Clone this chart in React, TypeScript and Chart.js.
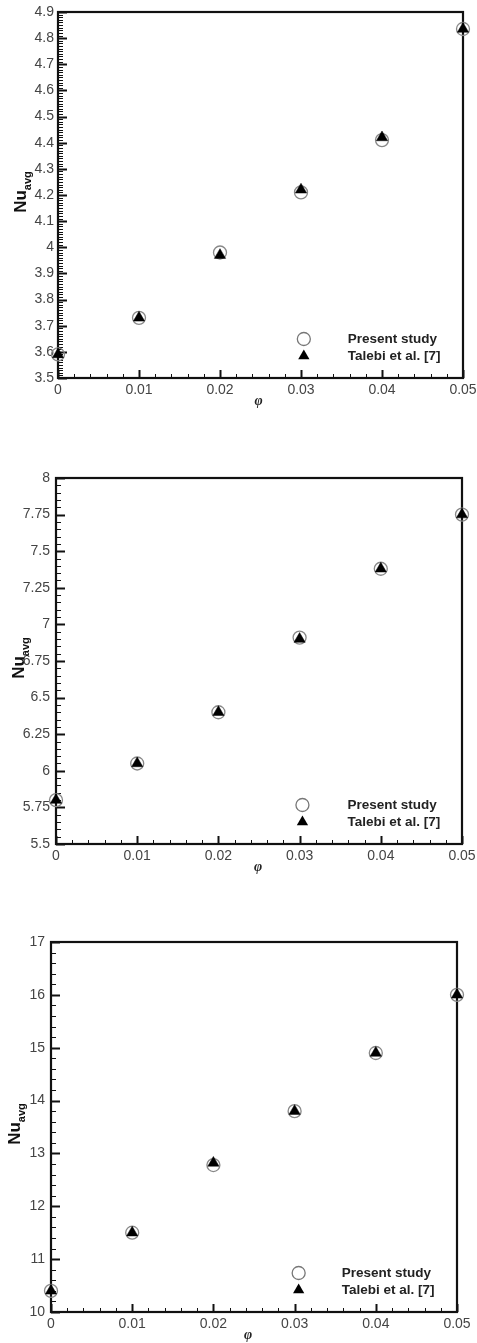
import React, { useEffect, useRef } from 'react';
import { Chart, registerables } from 'chart.js';

Chart.register(...registerables);

// ---------- data ----------
const PHI = [0, 0.01, 0.02, 0.03, 0.04, 0.05];
const X_TICK_VALUES = [0, 0.01, 0.02, 0.03, 0.04, 0.05];
const X_TICK_LABELS = ['0', '0.01', '0.02', '0.03', '0.04', '0.05'];
const LEGEND_LABELS = ['Present study', 'Talebi et al. [7]'];

// Panel A
const PRESENT_A = [3.59, 3.73, 3.98, 4.21, 4.41, 4.835];
const TALEBI_A = [3.59, 3.73, 3.97, 4.22, 4.42, 4.835];
const Y_TICKS_A = [3.5, 3.6, 3.7, 3.8, 3.9, 4, 4.1, 4.2, 4.3, 4.4, 4.5, 4.6, 4.7, 4.8, 4.9];

// Panel B
const PRESENT_B = [5.8, 6.05, 6.4, 6.91, 7.38, 7.75];
const TALEBI_B = [5.8, 6.05, 6.4, 6.9, 7.38, 7.75];
const Y_TICKS_B = [5.5, 5.75, 6, 6.25, 6.5, 6.75, 7, 7.25, 7.5, 7.75, 8];

// Panel C
const PRESENT_C = [10.4, 11.5, 12.78, 13.8, 14.9, 16.0];
const TALEBI_C = [10.4, 11.5, 12.82, 13.8, 14.9, 16.0];
const Y_TICKS_C = [10, 11, 12, 13, 14, 15, 16, 17];

const TICK_FONT = { family: "'Liberation Sans', Arial, sans-serif", size: 14 };

const framePlugin = {
  id: 'frame',
  beforeDatasetsDraw(chart: any, _args: any, opts: any) {
    const { ctx, chartArea: a, scales } = chart;
    const xs = scales.x;
    const ys = scales.y;
    ctx.save();
    ctx.strokeStyle = '#111';
    const ny = Math.round((ys.max - ys.min) / opts.yMinor);
    const yRatio = Math.round(opts.yMajor / opts.yMinor);
    for (let i = 0; i <= ny; i++) {
      const v = ys.min + i * opts.yMinor;
      const py = Math.round(ys.getPixelForValue(v)) + 0.5;
      const major = i % yRatio === 0;
      ctx.lineWidth = major ? 2 : 1;
      ctx.beginPath();
      ctx.moveTo(a.left, py);
      ctx.lineTo(a.left + (major ? 9 : 5), py);
      ctx.stroke();
    }
    const nx = Math.round((xs.max - xs.min) / opts.xMinor);
    const xRatio = Math.round(opts.xMajor / opts.xMinor);
    for (let i = 0; i <= nx; i++) {
      const v = xs.min + i * opts.xMinor;
      const px = Math.round(xs.getPixelForValue(v)) + 0.5;
      const major = i % xRatio === 0;
      ctx.lineWidth = major ? 2 : 1;
      ctx.beginPath();
      ctx.moveTo(px, a.bottom);
      ctx.lineTo(px, a.bottom - (major ? 8 : 4));
      ctx.stroke();
    }
    ctx.lineWidth = 2.2;
    ctx.strokeRect(a.left, a.top, a.right - a.left, a.bottom - a.top);
    ctx.restore();
  },
  afterDraw(chart: any, _args: any, opts: any) {
    const { ctx, chartArea: a } = chart;
    ctx.save();
    // y title Nu_avg
    const cy = (a.top + a.bottom) / 2 - 3;
    ctx.translate(opts.yTitleX, cy);
    ctx.rotate(-Math.PI / 2);
    ctx.fillStyle = '#111';
    ctx.font = "bold 17px 'Liberation Sans', Arial, sans-serif";
    const wNu = ctx.measureText('Nu').width;
    ctx.font = "bold 11px 'Liberation Sans', Arial, sans-serif";
    const wAvg = ctx.measureText('avg').width;
    const start = -(wNu + wAvg) / 2;
    ctx.textBaseline = 'alphabetic';
    ctx.textAlign = 'left';
    ctx.font = "bold 17px 'Liberation Sans', Arial, sans-serif";
    ctx.fillText('Nu', start, 0);
    ctx.font = "bold 11px 'Liberation Sans', Arial, sans-serif";
    ctx.fillText('avg', start + wNu, 5);
    ctx.restore();

    // x title phi
    ctx.save();
    ctx.fillStyle = '#222';
    ctx.font = "italic bold 14px 'Liberation Serif', 'DejaVu Serif', serif";
    ctx.textAlign = 'center';
    ctx.textBaseline = 'middle';
    ctx.fillText('φ', (a.left + a.right) / 2 + opts.phiDx, a.bottom + 23);
    ctx.restore();

    // legend
    ctx.save();
    const sx = a.left + opts.legendX * (a.right - a.left);
    const y1 = a.bottom - 39;
    const y2 = a.bottom - 22;
    ctx.beginPath();
    ctx.arc(sx, y1, 6.5, 0, Math.PI * 2);
    ctx.strokeStyle = '#777';
    ctx.lineWidth = 1.3;
    ctx.stroke();
    const r = 6.5;
    ctx.beginPath();
    ctx.moveTo(sx, y2 - r);
    ctx.lineTo(sx + 0.866 * r, y2 + 0.5 * r);
    ctx.lineTo(sx - 0.866 * r, y2 + 0.5 * r);
    ctx.closePath();
    ctx.fillStyle = '#000';
    ctx.fill();
    ctx.fillStyle = '#222';
    ctx.font = "bold 13.5px 'Liberation Sans', Arial, sans-serif";
    ctx.textAlign = 'left';
    ctx.textBaseline = 'middle';
    ctx.fillText(LEGEND_LABELS[0], sx + opts.textGap, y1);
    ctx.fillText(LEGEND_LABELS[1], sx + opts.textGap, y2);
    ctx.restore();
  },
};

type PanelProps = {
  present: number[];
  talebi: number[];
  yTicks: number[];
  yMajor: number;
  yMinor: number;
  top: number;
  height: number;
  padTop: number;
  padRight: number;
  yWidth: number;
  xHeight: number;
  yLabelPad: number;
  yTitleX: number;
  legendX: number;
  textGap: number;
  phiDx: number;
};

function Panel(p: PanelProps) {
  const ref = useRef<HTMLCanvasElement | null>(null);
  useEffect(() => {
    if (!ref.current) return;
    const yMin = p.yTicks[0];
    const yMax = p.yTicks[p.yTicks.length - 1];
    const chart = new Chart(ref.current, {
      type: 'scatter',
      data: {
        datasets: [
          {
            label: LEGEND_LABELS[0],
            data: PHI.map((x, i) => ({ x, y: p.present[i] })),
            pointStyle: 'circle',
            pointRadius: 6.5,
            pointBorderColor: '#888',
            pointBorderWidth: 1.3,
            pointBackgroundColor: 'rgba(255,255,255,0)',
            showLine: false,
            clip: false,
            order: 2,
          } as any,
          {
            label: LEGEND_LABELS[1],
            data: PHI.map((x, i) => ({ x, y: p.talebi[i] })),
            pointStyle: 'triangle',
            pointRadius: 6.5,
            pointBorderColor: '#000',
            pointBorderWidth: 0.5,
            pointBackgroundColor: '#000',
            showLine: false,
            clip: false,
            order: 1,
          } as any,
        ],
      },
      options: {
        responsive: false,
        animation: false,
        events: [],
        layout: { padding: { top: p.padTop, right: p.padRight, left: 0, bottom: 0 } },
        plugins: {
          legend: { display: false },
          tooltip: { enabled: false },
          frame: {
            yMajor: p.yMajor,
            yMinor: p.yMinor,
            xMajor: 0.01,
            xMinor: 0.002,
            yTitleX: p.yTitleX,
            legendX: p.legendX,
            textGap: p.textGap,
            phiDx: p.phiDx,
          },
        } as any,
        scales: {
          x: {
            type: 'linear',
            min: 0,
            max: 0.05,
            grid: { display: false, drawTicks: false },
            border: { display: false },
            ticks: {
              autoSkip: false,
              maxRotation: 0,
              padding: 4,
              font: TICK_FONT,
              color: '#444',
              callback: (_v: any, i: number) => X_TICK_LABELS[i],
            },
            afterBuildTicks: (s: any) => {
              s.ticks = X_TICK_VALUES.map((value) => ({ value }));
            },
            afterFit: (s: any) => {
              s.height = p.xHeight;
              s.paddingLeft = 0;
              s.paddingRight = 0;
            },
          },
          y: {
            type: 'linear',
            min: yMin,
            max: yMax,
            grid: { display: false, drawTicks: false },
            border: { display: false },
            ticks: {
              autoSkip: false,
              padding: p.yLabelPad,
              font: TICK_FONT,
              color: '#444',
              callback: (v: any) => String(v),
            },
            afterBuildTicks: (s: any) => {
              s.ticks = p.yTicks.map((value) => ({ value }));
            },
            afterFit: (s: any) => {
              s.width = p.yWidth;
              s.paddingTop = 0;
              s.paddingBottom = 0;
            },
          },
        } as any,
      },
      plugins: [framePlugin as any],
    });
    return () => chart.destroy();
  }, []);
  return (
    <canvas
      ref={ref}
      width={477}
      height={p.height}
      style={{ position: 'absolute', left: 0, top: p.top, display: 'block' }}
    />
  );
}

export default function App() {
  return (
    <div style={{ position: 'absolute', left: 0, top: 0, width: 477, height: 1343, background: '#fff' }}>
      <Panel
        present={PRESENT_A}
        talebi={TALEBI_A}
        yTicks={Y_TICKS_A}
        yMajor={0.1}
        yMinor={0.01}
        top={0}
        height={440}
        padTop={12}
        padRight={14}
        yWidth={58}
        xHeight={62}
        yLabelPad={4}
        yTitleX={26}
        legendX={0.607}
        textGap={44}
        phiDx={-2}
      />
      <Panel
        present={PRESENT_B}
        talebi={TALEBI_B}
        yTicks={Y_TICKS_B}
        yMajor={0.25}
        yMinor={0.05}
        top={440}
        height={450}
        padTop={38}
        padRight={15}
        yWidth={56}
        xHeight={46}
        yLabelPad={6}
        yTitleX={24}
        legendX={0.607}
        textGap={45}
        phiDx={-1}
      />
      <Panel
        present={PRESENT_C}
        talebi={TALEBI_C}
        yTicks={Y_TICKS_C}
        yMajor={1}
        yMinor={0.2}
        top={890}
        height={453}
        padTop={52}
        padRight={20}
        yWidth={51}
        xHeight={31}
        yLabelPad={6}
        yTitleX={20}
        legendX={0.61}
        textGap={43}
        phiDx={-6}
      />
    </div>
  );
}
